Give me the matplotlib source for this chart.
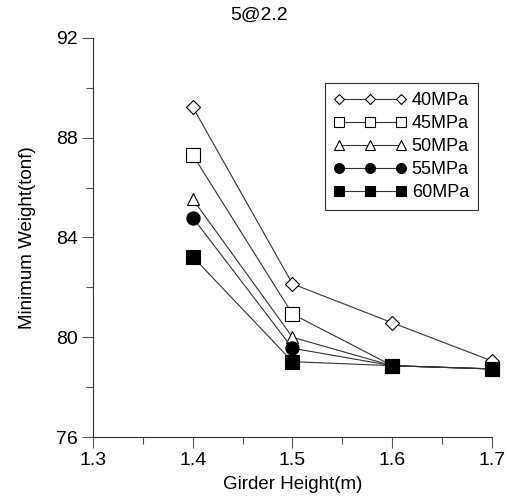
import matplotlib
matplotlib.use("Agg")
import matplotlib.pyplot as plt
from matplotlib.ticker import MultipleLocator, FormatStrFormatter

plt.rcParams['font.family'] = ['Liberation Sans', 'DejaVu Sans']

heights = [1.4, 1.5, 1.6, 1.7]
labels = ['40MPa', '45MPa', '50MPa', '55MPa', '60MPa']
w40 = [89.23, 82.14, 80.58, 79.05]
w45 = [87.31, 80.93, 78.86, 78.73]
w50 = [85.54, 80.00, 78.86, 78.73]
w55 = [84.80, 79.56, 78.86, 78.73]
w60 = [83.23, 79.02, 78.86, 78.73]
series = [w40, w45, w50, w55, w60]

markers = ['D', 's', '^', 'o', 's']
msizes = [7, 10, 9, 9.5, 10]
faces = ['white', 'white', 'white', 'black', 'black']

fig = plt.figure(figsize=(5.09, 5.01), dpi=100)
ax = fig.add_axes([0.1827, 0.1277, 0.7839, 0.7965])

for vals, lab, m, ms, fc in zip(series, labels, markers, msizes, faces):
    ax.plot(heights, vals, color='#333333', lw=0.8, marker=m, ms=ms,
            mfc=fc, mec='black', mew=0.8, label=lab, clip_on=False)

ax.set_xlim(1.3, 1.7)
ax.set_ylim(76, 92)
ax.xaxis.set_major_locator(MultipleLocator(0.1))
ax.xaxis.set_minor_locator(MultipleLocator(0.05))
ax.xaxis.set_major_formatter(FormatStrFormatter('%.1f'))
ax.yaxis.set_major_locator(MultipleLocator(4))
ax.yaxis.set_minor_locator(MultipleLocator(2))
ax.tick_params(which='major', direction='out', length=8, width=0.8, color='#555555',
               labelsize=14, pad=3)
ax.tick_params(which='minor', direction='out', length=5, width=0.8, color='#555555')
ax.spines['top'].set_visible(False)
ax.spines['right'].set_visible(False)
for s in ['left', 'bottom']:
    ax.spines[s].set_color('#333333')
    ax.spines[s].set_linewidth(0.8)

ax.set_xlabel('Girder Height(m)', fontsize=13.5, labelpad=5)
ax.set_ylabel('Minimum Weight(tonf)', fontsize=13.5, labelpad=14)
fig.text(0.508, 0.97, '5@2.2', ha='center', va='center', fontsize=14)

leg = ax.legend(loc='upper left', bbox_to_anchor=(325 / 509, 1 - 83 / 501),
                bbox_transform=fig.transFigure, borderaxespad=0, numpoints=3,
                markerscale=0.75, fancybox=False, framealpha=1, fontsize=13,
                handlelength=4.0, handletextpad=0.3, labelspacing=0.33,
                borderpad=0.5)
leg.get_frame().set_edgecolor('#333333')
leg.get_frame().set_linewidth(0.8)

fig.savefig('out.png', dpi=100)
